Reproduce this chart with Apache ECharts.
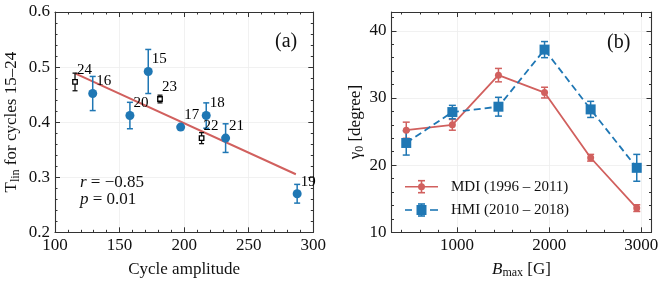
<!DOCTYPE html>
<html><head><meta charset="utf-8">
<script src="https://cdn.jsdelivr.net/npm/echarts@6/dist/echarts.min.js"></script>
<style>html,body{margin:0;padding:0;background:#fff}#c{width:665px;height:287px}</style>
</head><body><div id="c"></div>
<script>
// ---------- Panel (a) data ----------
const blueCycles = ['16','20','15','17','18','21','19'];
const blueAmplitude = [129.2, 158.0, 172.2, 197.3, 217.1, 232.1, 287.5];
const blueTlin = [0.452, 0.412, 0.492, 0.391, 0.412, 0.371, 0.270];
const blueErr = [0.031, 0.024, 0.040, 0.000, 0.023, 0.026, 0.017];

const blackCycles = ['24','23','22'];
const blackAmplitude = [115.5, 181.3, 213.5];
const blackTlin = [0.473, 0.442, 0.371];
const blackErr = [0.016, 0.007, 0.010];

const fitAmplitude = [115.5, 286.5];
const fitTlin = [0.4886, 0.3054];

const aXTicks = [100, 150, 200, 250, 300];
const aXMinor = [110,120,130,140,160,170,180,190,210,220,230,240,260,270,280,290];
const aYTicks = [0.2, 0.3, 0.4, 0.5, 0.6];
const aYMinor = [0.22,0.24,0.26,0.28,0.32,0.34,0.36,0.38,0.42,0.44,0.46,0.48,0.52,0.54,0.56,0.58];

// ---------- Panel (b) data ----------
const bmax = [450, 950, 1450, 1950, 2450, 2950];
const mdiGamma = [25.2, 26.0, 33.4, 30.8, 21.1, 13.6];
const mdiErr = [1.2, 0.8, 1.0, 0.8, 0.5, 0.5];
const hmiGamma = [23.3, 27.9, 28.7, 37.2, 28.3, 19.6];
const hmiErr = [1.8, 1.0, 1.4, 1.2, 1.2, 2.0];

const bXTicks = [1000, 2000, 3000];
const bXMinor = [400,600,800,1200,1400,1600,1800,2200,2400,2600,2800];
const bYTicks = [10, 20, 30, 40];
const bYMinor = [12,14,16,18,22,24,26,28,32,34,36,38,42];

const legendLabels = ['MDI (1996 – 2011)', 'HMI (2010 – 2018)'];

// ---------- styling ----------
const SERIF = 'Liberation Serif, DejaVu Serif, serif';
const AX = '#333';
const BLUE = '#1f77b4';
const RED = '#d1605e';

function zip(a, b, c) { return a.map((v, i) => c ? [v, b[i], c[i]] : [v, b[i]]); }

function axisSet(kind, grid, min, max, majors, minors, mainExtra) {
  const sides = kind === 'x' ? ['bottom', 'top'] : ['left', 'right'];
  const base = {type: 'value', gridIndex: grid, min: min, max: max};
  const line = {show: true, onZero: false, lineStyle: {color: AX, width: 1.1}};
  const noLine = {show: false, onZero: false};
  const tick = (vals, len) => ({show: true, inside: true, length: len, customValues: vals, lineStyle: {color: AX, width: 1}});
  const out = [];
  out.push(Object.assign({}, base, {
    position: sides[0], axisLine: line, axisTick: tick(majors, 5),
    axisLabel: {show: true, customValues: majors, fontFamily: SERIF, fontSize: 17, color: '#111', margin: 5},
    splitLine: {show: true, lineStyle: {color: '#ededed', width: 0.8}}
  }, mainExtra));
  out.push(Object.assign({}, base, {position: sides[0], axisLine: noLine, axisTick: tick(minors, 2.5), axisLabel: {show: false}, splitLine: {show: false}}));
  out.push(Object.assign({}, base, {position: sides[1], axisLine: line, axisTick: tick(majors, 5), axisLabel: {show: false}, splitLine: {show: false}}));
  out.push(Object.assign({}, base, {position: sides[1], axisLine: noLine, axisTick: tick(minors, 2.5), axisLabel: {show: false}, splitLine: {show: false}}));
  return out;
}

function errorBarSeries(xi, yi, data, color, capHalf, lw, z) {
  return {
    type: 'custom', xAxisIndex: xi, yAxisIndex: yi, z: z || 2, silent: true,
    data: data,
    renderItem: function (params, api) {
      const x = api.value(0), y = api.value(1), e = api.value(2);
      if (!e) return {type: 'group', children: []};
      const top = api.coord([x, y + e]);
      const bot = api.coord([x, y - e]);
      const st = {stroke: color, lineWidth: lw};
      return {type: 'group', children: [
        {type: 'line', shape: {x1: top[0], y1: top[1], x2: bot[0], y2: bot[1]}, style: st},
        {type: 'line', shape: {x1: top[0] - capHalf, y1: top[1], x2: top[0] + capHalf, y2: top[1]}, style: st},
        {type: 'line', shape: {x1: bot[0] - capHalf, y1: bot[1], x2: bot[0] + capHalf, y2: bot[1]}, style: st}
      ]};
    }
  };
}

const nameRich = {
  n: {fontFamily: SERIF, fontSize: 17, color: '#111', lineHeight: 20, verticalAlign: 'middle'},
  i: {fontFamily: SERIF, fontSize: 17, fontStyle: 'italic', color: '#111', lineHeight: 20, verticalAlign: 'middle'},
  s: {fontFamily: SERIF, fontSize: 12, color: '#111', verticalAlign: 'bottom', lineHeight: 19}
};

const xAxes = [].concat(
  axisSet('x', 0, 100, 300, aXTicks, aXMinor, {
    name: 'Cycle amplitude', nameLocation: 'middle', nameGap: 29,
    nameTextStyle: {fontFamily: SERIF, fontSize: 17, color: '#111'}
  }),
  axisSet('x', 1, 290, 3110, bXTicks, bXMinor, {
    name: '{i|B}{s|max}{n| [G]}', nameLocation: 'middle', nameGap: 27,
    nameTextStyle: {rich: nameRich}
  })
);
xAxes[4].axisLabel.formatter = v => String(v);

const yAxes = [].concat(
  axisSet('y', 0, 0.2, 0.6, aYTicks, aYMinor, {
    name: '{n|T}{s|lin}{n| for cycles 15–24}', nameLocation: 'middle', nameGap: 33,
    nameTextStyle: {rich: nameRich}
  }),
  axisSet('y', 1, 10, 42.8, bYTicks, bYMinor, {
    name: '{n|γ}{s|0}{n| [degree]}', nameLocation: 'middle', nameGap: 26,
    nameTextStyle: {rich: nameRich}
  })
);
yAxes[0].axisLabel.formatter = v => v.toFixed(1);

const pointLabel = (names) => ({
  show: true, position: 'right', distance: 0, offset: [-1, -12],
  fontFamily: SERIF, fontSize: 15, color: '#000', opacity: 1, textBorderWidth: 0,
  formatter: p => names[p.dataIndex]
});

const series = [
  {type: 'line', xAxisIndex: 0, yAxisIndex: 0, data: zip(fitAmplitude, fitTlin), showSymbol: false, symbol: 'none',
   lineStyle: {color: RED, width: 2}, z: 1, silent: true},
  errorBarSeries(0, 0, zip(blueAmplitude, blueTlin, blueErr), BLUE, 3, 1.5),
  errorBarSeries(0, 0, zip(blackAmplitude, blackTlin, blackErr), '#111', 2.5, 1.3),
  {type: 'scatter', xAxisIndex: 0, yAxisIndex: 0, data: zip(blueAmplitude, blueTlin), symbol: 'circle', symbolSize: 9,
   itemStyle: {color: BLUE, opacity: 1}, label: pointLabel(blueCycles), z: 3},
  {type: 'scatter', xAxisIndex: 0, yAxisIndex: 0, data: zip(blackAmplitude, blackTlin), symbol: 'rect', symbolSize: 4.5,
   itemStyle: {color: '#fff', borderColor: '#000', borderWidth: 1.3, opacity: 1}, label: pointLabel(blackCycles), z: 3},

  errorBarSeries(4, 4, zip(bmax, mdiGamma, mdiErr), RED, 3.5, 1.5),
  errorBarSeries(4, 4, zip(bmax, hmiGamma, hmiErr), BLUE, 3.5, 1.5),
  {type: 'line', xAxisIndex: 4, yAxisIndex: 4, data: zip(bmax, mdiGamma), symbol: 'circle', symbolSize: 7,
   lineStyle: {color: RED, width: 1.8}, itemStyle: {color: RED, opacity: 1}, z: 3},
  {type: 'line', xAxisIndex: 4, yAxisIndex: 4, data: zip(bmax, hmiGamma), symbol: 'rect', symbolSize: 10,
   lineStyle: {color: BLUE, width: 1.8, type: [7, 4]}, itemStyle: {color: BLUE, opacity: 1}, z: 3}
];

function legendGlyph(y, color, dashed, symbol) {
  const st = {stroke: color, lineWidth: 1.6};
  const items = [];
  if (dashed) {
    items.push({type: 'line', shape: {x1: 405, y1: y, x2: 412, y2: y}, style: st});
    items.push({type: 'line', shape: {x1: 430, y1: y, x2: 438, y2: y}, style: st});
  } else {
    items.push({type: 'line', shape: {x1: 405, y1: y, x2: 438, y2: y}, style: st});
  }
  items.push({type: 'line', shape: {x1: 421.5, y1: y - 6, x2: 421.5, y2: y + 6}, style: st});
  items.push({type: 'line', shape: {x1: 418, y1: y - 6, x2: 425, y2: y - 6}, style: st});
  items.push({type: 'line', shape: {x1: 418, y1: y + 6, x2: 425, y2: y + 6}, style: st});
  if (symbol === 'circle') items.push({type: 'circle', shape: {cx: 421.5, cy: y, r: 3.5}, style: {fill: color}});
  else items.push({type: 'rect', shape: {x: 416.5, y: y - 5, width: 10, height: 10}, style: {fill: color}});
  return items;
}

const textStyle = (t, x, y, size, rich) => ({
  type: 'text', x: x, y: y, z: 10,
  style: {text: t, fontFamily: SERIF, fontSize: size, fill: '#111', rich: rich, verticalAlign: 'middle'}
});

const annRich = {
  i: {fontFamily: SERIF, fontSize: 17, fontStyle: 'italic', fill: '#111'},
  n: {fontFamily: SERIF, fontSize: 17, fill: '#111'}
};

const graphics = [].concat(
  legendGlyph(186.7, RED, false, 'circle'),
  legendGlyph(210, BLUE, true, 'rect'),
  [
    textStyle(legendLabels[0], 451, 187, 15),
    textStyle(legendLabels[1], 451, 210, 15),
    textStyle('(a)', 275, 42, 20),
    textStyle('(b)', 607, 43, 20),
    {type: 'text', x: 80, y: 183, z: 10, style: {text: '{i|r}{n| = −0.85}', rich: annRich, verticalAlign: 'middle'}},
    {type: 'text', x: 80, y: 200, z: 10, style: {text: '{i|p}{n| = 0.01}', rich: annRich, verticalAlign: 'middle'}}
  ]
);

const chart = echarts.init(document.getElementById('c'), null, {renderer: 'canvas'});
chart.setOption({
  animation: false,
  backgroundColor: '#fff',
  grid: [
    {left: 55, right: 665 - 313.3, top: 12, bottom: 287 - 232.3},
    {left: 391.5, right: 665 - 651.5, top: 12, bottom: 287 - 232.3}
  ],
  xAxis: xAxes,
  yAxis: yAxes,
  series: series,
  graphic: graphics
});
</script>
</body></html>
